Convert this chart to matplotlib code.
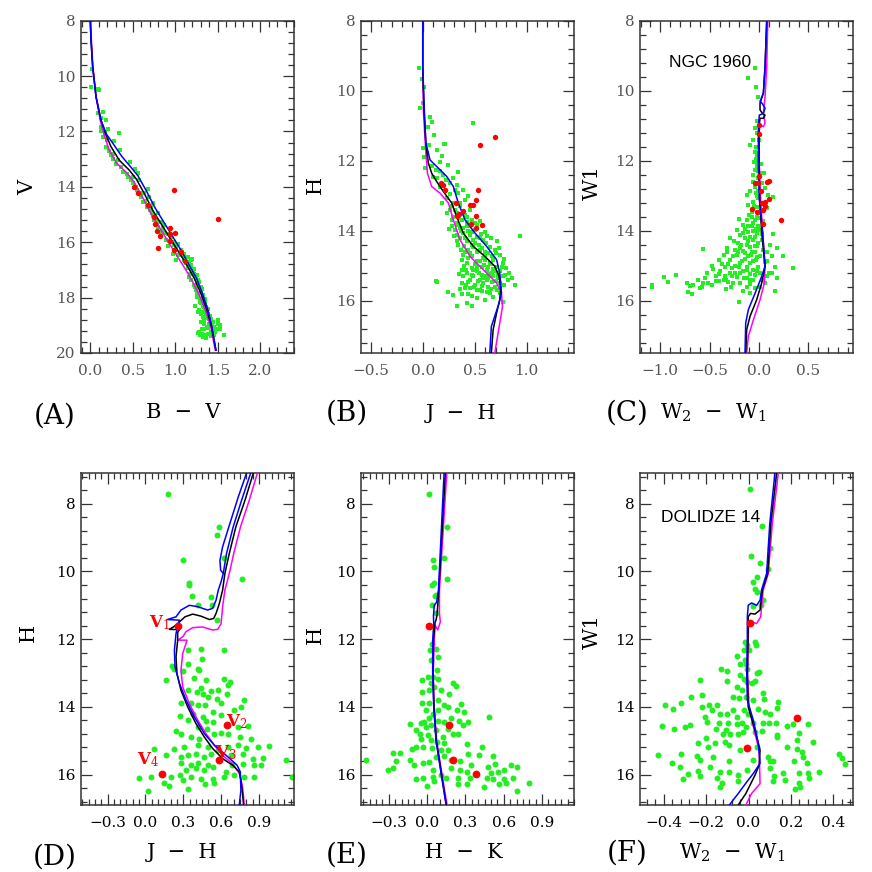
import numpy as np
import matplotlib.pyplot as plt
from matplotlib.ticker import MultipleLocator, FuncFormatter

plt.rcParams['font.family'] = 'DejaVu Serif'
plt.rcParams['mathtext.fontset'] = 'dejavuserif'

# ---------------- panel A : V vs B-V (NGC 1960) ----------------
a_green = np.array([
    (0.016, 9.76), (0.008, 10.39), (0.094, 10.45), (0.106, 10.51), (0.094, 11.35), (0.145, 11.29),
    (0.125, 11.53), (0.184, 11.57), (0.204, 11.9), (0.13, 11.83), (0.341, 12.05), (0.17, 12.07),
    (0.20, 12.31), (0.28, 12.34), (0.18, 12.55), (0.353, 12.67), (0.263, 12.8), (0.47, 13.1),
    (0.32, 13.04), (0.52, 13.34), (0.557, 13.5), (0.498, 13.64), (0.576, 13.76), (0.675, 14.06),
    (0.635, 14.24), (0.69, 14.36), (0.733, 14.58), (0.714, 14.72), (0.792, 14.96), (0.77, 15.2),
    (0.83, 15.27), (0.87, 15.39), (0.85, 15.5), (0.91, 15.69), (0.95, 15.81), (0.99, 15.99),
    (1.03, 16.05), (1.01, 16.17), (1.07, 16.29), (1.106, 16.41), (1.145, 16.53), (1.047, 16.47),
    (1.165, 16.71), (1.18, 16.83), (1.145, 16.89), (1.2, 17.01), (1.22, 17.13), (1.165, 17.25),
    (1.24, 17.31), (1.26, 17.49), (1.28, 17.61), (1.24, 17.73), (1.30, 17.8), (1.32, 17.92),
    (1.26, 17.98), (1.34, 18.1), (1.30, 18.2), (1.36, 18.34), (1.28, 18.46), (1.38, 18.58),
    (1.32, 18.7), (1.42, 18.76), (1.30, 18.88), (1.40, 18.94), (1.46, 19.06), (1.34, 19.12),
    (1.28, 19.24), (1.38, 19.3), (1.52, 19.0), (1.57, 19.36), (1.32, 19.42), (1.44, 19.18),
    (1.184, 16.65), (1.224, 16.95), (1.176, 17.13), (1.243, 17.19), (1.27, 17.37), (1.216, 17.55),
    (1.302, 17.61), (1.255, 17.86), (1.349, 18.04), (1.294, 18.16), (1.333, 18.34), (1.27, 18.52),
    (1.36, 18.58), (1.40, 18.76), (1.341, 18.82), (1.44, 18.88), (1.373, 19.06), (1.478, 19.12),
    (1.416, 19.24), (1.31, 19.3), (1.263, 19.28), (1.459, 19.36), (1.36, 19.45), (1.498, 18.82),
    (1.53, 19.12), (1.322, 18.52), (1.23, 18.31), (1.153, 16.93), (1.098, 16.65), (1.027, 16.45),
    (1.008, 16.63), (0.969, 16.41), (0.918, 16.14), (0.89, 15.93), (0.831, 15.69), (0.8, 15.45),
    (0.745, 15.2), (0.722, 14.96), (0.667, 14.72), (0.616, 14.54), (0.588, 14.24), (0.537, 14.0),
    (0.478, 13.76), (0.44, 13.64), (0.38, 13.46), (0.302, 13.16), (0.243, 12.86),
    (1.1, 16.55), (1.13, 16.75), (1.19, 16.9), (1.21, 17.05), (1.25, 17.2), (1.19, 17.35),
    (1.28, 17.42), (1.23, 17.6), (1.31, 17.7), (1.27, 17.85), (1.33, 18.0), (1.29, 18.05),
    (1.35, 18.2), (1.32, 18.3), (1.39, 18.4), (1.35, 18.45), (1.30, 18.6), (1.41, 18.65),
    (1.37, 18.75), (1.34, 18.95), (1.43, 18.98), (1.39, 19.1), (1.31, 19.15), (1.47, 19.25),
    (1.35, 19.35), (1.42, 19.4), (1.29, 19.35), (1.50, 18.95), (1.2, 16.6), (1.08, 16.35),
    (0.98, 16.1), (0.93, 15.95), (0.88, 15.65), (0.84, 15.55), (0.79, 15.3), (0.74, 15.05),
    (0.70, 14.85), (0.64, 14.5), (0.6, 14.35), (0.55, 14.1), (0.5, 13.85), (0.43, 13.55),
    (0.36, 13.3), (0.27, 13.0), (0.22, 12.7), (0.15, 12.2), (0.12, 12.0),
])
a_red = np.array([
    (0.51, 14.02), (0.565, 14.22), (0.675, 14.66), (0.745, 15.08), (0.76, 15.35), (0.78, 15.59),
    (0.82, 15.78), (0.80, 16.2), (0.933, 15.49), (0.94, 15.72), (1.0, 15.66), (0.94, 15.96),
    (0.98, 16.29), (1.067, 16.37), (1.11, 16.67), (0.99, 14.13), (1.506, 15.16),
])
a_black = [np.array([
    (0.0, 8.0), (0.008, 8.7), (0.027, 9.66), (0.067, 10.75), (0.125, 11.59), (0.184, 12.13),
    (0.243, 12.55), (0.341, 13.04), (0.459, 13.40), (0.537, 13.70), (0.635, 14.24), (0.733, 14.84),
    (0.831, 15.33), (0.929, 15.81), (1.027, 16.29), (1.125, 16.77), (1.224, 17.31), (1.302, 17.86),
    (1.373, 18.46), (1.427, 19.06), (1.478, 19.9)])]
a_blue = [np.array([
    (0.0, 8.0), (0.008, 8.7), (0.027, 9.66), (0.067, 10.75), (0.125, 11.59), (0.19, 12.1),
    (0.27, 12.45), (0.37, 12.9), (0.48, 13.3), (0.56, 13.6), (0.66, 14.15), (0.76, 14.75),
    (0.86, 15.25), (0.96, 15.75), (1.06, 16.25), (1.15, 16.75), (1.25, 17.3), (1.32, 17.86),
    (1.385, 18.46), (1.43, 19.06), (1.478, 19.9)])]
a_magenta = [np.array([
    (0.0, 8.0), (0.012, 8.7), (0.03, 9.66), (0.067, 10.75), (0.12, 11.65), (0.17, 12.2),
    (0.22, 12.65), (0.31, 13.15), (0.43, 13.5), (0.51, 13.8), (0.61, 14.35), (0.71, 14.95),
    (0.81, 15.45), (0.91, 15.95), (1.00, 16.4), (1.10, 16.88), (1.20, 17.4), (1.28, 17.9),
    (1.36, 18.5), (1.42, 19.1), (1.47, 19.9)])]

# ---------------- panel B : H vs J-H (NGC 1960) ----------------
b_green = np.array([
    (-0.04, 9.36), (-0.01, 9.67), (0.015, 9.9), (0.0, 10.36), (-0.03, 10.5), (0.07, 10.76),
    (0.085, 10.91), (0.48, 10.93), (0.05, 11.05), (0.11, 11.27), (0.2, 11.53), (0.94, 14.15),
    (0.13, 15.44),
    (0.064, 11.55), (0.217, 11.52), (0.006, 11.65), (0.038, 11.79), (0.134, 11.71), (0.013, 11.9),
    (0.182, 11.88), (0.166, 12.03), (0.246, 12.12), (0.022, 12.22), (0.131, 12.27), (0.342, 12.33),
    (0.198, 12.41), (0.102, 12.46), (0.294, 12.5), (0.262, 12.65), (0.326, 12.69), (0.166, 12.74),
    (0.39, 12.84), (0.342, 12.93), (0.438, 13.01), (0.23, 13.07), (0.406, 13.12), (0.294, 13.22),
    (0.358, 13.31), (0.262, 13.41), (0.454, 13.41), (0.326, 13.5), (0.406, 13.55), (0.278, 13.69),
    (0.374, 13.69), (0.47, 13.69), (0.55, 13.74), (0.342, 13.84), (0.422, 13.88), (0.31, 13.98),
    (0.502, 13.98), (0.597, 14.03), (0.39, 14.07), (0.454, 14.12), (0.358, 14.22), (0.55, 14.22),
    (0.66, 14.22), (0.422, 14.31), (0.502, 14.36), (0.61, 14.36), (0.71, 14.31), (0.342, 14.41),
    (0.566, 14.5), (0.438, 14.55), (0.693, 14.55), (0.518, 14.6), (0.63, 14.65), (0.39, 14.69),
    (0.74, 14.69), (0.47, 14.74), (0.58, 14.79), (0.677, 14.84), (0.374, 14.84), (0.518, 14.88),
    (0.422, 14.93), (0.645, 14.93), (0.77, 14.93), (0.566, 15.03), (0.71, 15.03), (0.47, 15.07),
    (0.80, 15.07), (0.374, 15.12), (0.614, 15.12), (0.518, 15.17), (0.74, 15.17), (0.422, 15.22),
    (0.662, 15.22), (0.566, 15.27), (0.79, 15.27), (0.39, 15.31), (0.486, 15.31), (0.63, 15.36),
    (0.725, 15.36), (0.55, 15.41), (0.821, 15.41), (0.438, 15.46), (0.662, 15.46), (0.374, 15.5),
    (0.582, 15.5), (0.741, 15.5), (0.885, 15.55), (0.502, 15.55), (0.63, 15.6), (0.454, 15.65),
    (0.55, 15.69), (0.71, 15.69), (0.614, 15.77), (0.134, 15.46), (0.246, 15.77), (0.294, 15.84),
    (0.374, 15.81), (0.47, 15.88), (0.6, 15.98), (0.77, 16.03), (0.422, 16.07), (0.47, 16.17),
    (0.326, 16.15),
    (0.326, 13.79), (0.39, 13.93), (0.47, 14.03), (0.518, 14.17), (0.406, 14.22), (0.582, 14.27),
    (0.486, 14.46), (0.598, 14.6), (0.662, 14.74), (0.406, 14.6), (0.55, 14.88), (0.63, 15.03),
    (0.438, 14.79), (0.693, 15.17), (0.598, 15.31), (0.518, 15.03), (0.47, 15.27), (0.693, 15.6),
    (0.518, 15.69), (0.406, 15.65), (0.645, 15.79), (0.741, 15.79), (0.566, 15.58), (0.77, 15.31),
    (0.834, 15.22), (0.677, 15.31), (0.294, 13.6), (0.31, 13.41), (0.422, 13.6), (0.502, 13.79),
    (0.358, 13.93), (0.278, 13.88), (0.326, 14.12), (0.454, 13.88),
    (0.35, 13.65), (0.43, 13.75), (0.52, 13.85), (0.37, 14.0), (0.44, 14.0), (0.56, 14.1),
    (0.62, 14.15), (0.33, 14.3), (0.47, 14.4), (0.54, 14.42), (0.65, 14.48), (0.73, 14.5),
    (0.37, 14.55), (0.60, 14.7), (0.70, 14.65), (0.78, 14.8), (0.45, 14.65), (0.50, 14.95),
    (0.59, 14.98), (0.68, 15.1), (0.76, 15.05), (0.40, 15.0), (0.35, 15.25), (0.45, 15.4),
    (0.53, 15.45), (0.62, 15.42), (0.70, 15.43), (0.78, 15.55), (0.86, 15.35), (0.42, 15.55),
    (0.49, 15.6), (0.57, 15.72), (0.66, 15.68), (0.74, 15.65), (0.36, 15.68), (0.44, 15.82),
    (0.52, 15.92), (0.68, 15.9), (0.58, 15.35), (0.64, 15.25), (0.72, 15.25), (0.54, 15.2),
    (0.48, 15.12), (0.42, 15.12), (0.60, 14.85), (0.66, 14.95), (0.55, 14.55), (0.48, 14.28),
    (0.40, 14.45), (0.30, 14.15), (0.25, 13.95), (0.23, 13.5), (0.28, 13.3), (0.36, 13.2),
    (0.19, 13.2), (0.26, 12.95), (0.31, 12.85), (0.22, 12.55), (0.14, 12.5), (0.09, 12.15),
    (0.17, 12.3),
])
b_red = np.array([
    (0.693, 11.33), (0.55, 11.55), (0.173, 12.63), (0.198, 12.69), (0.214, 12.84), (0.527, 12.84),
    (0.511, 13.12), (0.32, 13.2), (0.454, 13.27), (0.479, 13.27), (0.383, 13.43), (0.351, 13.53),
    (0.332, 13.58), (0.508, 13.57), (0.466, 13.8), (0.569, 13.85), (0.511, 13.93),
])
b_black = [np.array([
    (0.0, 8.0), (0.0, 9.31), (0.012, 10.55), (0.03, 11.5), (0.054, 12.07), (0.086, 12.36),
    (0.134, 12.6), (0.198, 12.88), (0.278, 13.21), (0.326, 13.6), (0.39, 14.07), (0.486, 14.45),
    (0.598, 14.74), (0.693, 15.02), (0.735, 15.31), (0.75, 15.69), (0.74, 15.98), (0.71, 16.36),
    (0.677, 16.84), (0.66, 17.5)])]
b_blue = [np.array([
    (0.0, 8.0), (0.0, 9.31), (0.015, 10.55), (0.03, 11.5), (0.07, 11.98), (0.166, 12.26),
    (0.23, 12.45), (0.294, 12.74), (0.342, 13.21), (0.406, 13.69), (0.502, 14.07), (0.614, 14.45),
    (0.71, 14.83), (0.741, 15.21), (0.757, 15.78), (0.735, 16.07), (0.66, 16.74), (0.645, 17.5)])]
b_magenta = [np.array([
    (0.0, 8.0), (0.0, 9.31), (0.006, 10.55), (0.022, 11.4), (0.045, 12.36), (0.086, 12.74),
    (0.166, 12.93), (0.246, 13.21), (0.294, 13.69), (0.358, 14.26), (0.454, 14.74), (0.582, 15.12),
    (0.71, 15.5), (0.757, 15.78), (0.767, 16.17), (0.741, 16.64), (0.693, 17.5)])]

# ---------------- panel C : W1 vs W2-W1 (NGC 1960) ----------------
c_green = np.array([
    (-0.04, 9.36), (-0.11, 9.65), (-0.03, 9.9), (-0.01, 10.17),
    (-0.017, 10.88), (-0.04, 11.07), (-0.09, 11.55), (-0.03, 11.6), (-0.04, 11.74), (-0.024, 11.88),
    (-0.05, 12.03), (-0.017, 12.17), (-0.04, 12.27), (0.05, 12.34), (-0.057, 12.41), (-0.007, 12.5),
    (0.027, 12.65), (-0.04, 12.74), (0.06, 12.79), (-0.09, 12.86), (-0.03, 12.93), (-0.118, 12.98),
    (0.095, 12.98), (0.145, 13.05), (-0.007, 13.07), (-0.057, 13.17), (0.044, 13.22), (-0.108, 13.27),
    (-0.024, 13.33), (0.078, 13.36), (-0.074, 13.46), (0.01, 13.5), (-0.2, 13.66), (-0.125, 13.69),
    (-0.04, 13.69), (0.044, 13.74), (-0.16, 13.84), (-0.074, 13.87), (-0.007, 13.88), (-0.226, 13.98),
    (-0.108, 14.03), (-0.024, 14.06), (0.145, 14.09), (-0.193, 14.12), (-0.294, 14.22), (-0.142, 14.22),
    (-0.057, 14.27), (0.027, 14.27), (-0.21, 14.36), (-0.125, 14.41), (-0.04, 14.44), (-0.328, 14.5),
    (-0.564, 14.53), (-0.243, 14.55), (-0.16, 14.57), (-0.074, 14.6), (0.078, 14.6), (0.18, 14.5),
    (-0.36, 14.69), (-0.226, 14.69), (-0.108, 14.74), (-0.024, 14.76), (0.128, 14.74), (0.247, 14.72),
    (-0.41, 14.84), (-0.294, 14.84), (-0.176, 14.86), (-0.057, 14.88), (0.078, 14.88), (-0.48, 15.01),
    (-0.345, 15.03), (-0.243, 15.01), (-0.125, 15.03), (-0.007, 15.03), (0.162, 15.03), (0.348, 15.07),
    (-0.53, 15.2), (-0.395, 15.17), (-0.294, 15.22), (-0.193, 15.2), (-0.091, 15.24), (0.128, 15.22),
    (-0.44, 15.31), (-0.345, 15.31), (-0.226, 15.33), (-0.125, 15.36), (0.078, 15.31), (0.18, 15.36),
    (-0.84, 15.27), (-0.96, 15.33), (-0.92, 15.48), (-0.615, 15.41), (-0.564, 15.5), (-0.733, 15.5),
    (-0.665, 15.55), (-0.513, 15.5), (-0.7, 15.58), (-0.41, 15.45), (-0.31, 15.48), (-0.26, 15.5),
    (-0.193, 15.5), (-0.09, 15.52), (-1.08, 15.55), (-1.08, 15.6), (-0.716, 15.77), (-0.68, 15.81),
    (-0.6, 15.65), (-0.33, 15.67), (-0.16, 15.74), (-0.09, 15.79), (0.162, 15.74), (-0.2, 16.03),
    (-0.58, 15.6), (-0.09, 15.41), (-0.04, 14.17), (-0.09, 14.46), (-0.04, 15.27), (0.01, 15.22),
    (-0.074, 13.6), (-0.024, 13.6), (-0.108, 13.88), (0.01, 13.98), (-0.159, 14.07), (-0.091, 14.17),
    (-0.007, 14.36), (-0.193, 14.5), (-0.04, 14.6), (-0.142, 14.65), (-0.26, 14.74), (0.01, 14.74),
    (-0.091, 14.93), (-0.193, 14.93), (-0.277, 15.07), (-0.057, 15.12), (-0.159, 15.17), (-0.243, 15.22),
    (-0.36, 15.41), (-0.44, 15.45), (0.027, 15.41), (0.01, 15.6), (-0.057, 12.6), (-0.007, 12.88),
    (0.017, 12.36), (-0.024, 12.07), (-0.057, 11.41), (-0.017, 11.79),
    (-0.02, 13.0), (-0.05, 13.3), (0.02, 13.45), (-0.1, 13.55), (-0.06, 13.78), (0.0, 13.65),
    (-0.14, 13.95), (-0.03, 13.95), (0.03, 14.1), (-0.11, 14.3), (-0.25, 14.3), (-0.18, 14.4),
    (-0.02, 14.45), (-0.32, 14.6), (-0.21, 14.6), (-0.08, 14.7), (-0.14, 14.8), (-0.03, 14.85),
    (-0.38, 14.95), (-0.31, 14.95), (-0.2, 15.05), (-0.12, 15.12), (-0.02, 15.15), (-0.47, 15.1),
    (-0.41, 15.25), (-0.33, 15.4), (-0.27, 15.3), (-0.15, 15.35), (-0.06, 15.4), (-0.55, 15.35),
    (-0.48, 15.55), (-0.28, 15.62), (-0.12, 15.6), (-0.04, 15.65), (0.06, 15.5), (0.1, 15.2),
    (0.06, 14.9), (0.11, 14.4), (0.04, 14.55), (-0.06, 14.0), (-0.01, 12.3), (0.02, 12.1),
    (-0.035, 11.95), (0.0, 11.4), (-0.02, 11.2),
])
c_red = np.array([
    (0.003, 10.97), (0.003, 11.25), (0.003, 12.44), (-0.04, 12.63), (-0.007, 12.65), (0.078, 12.6),
    (0.105, 12.58), (0.017, 12.88), (0.098, 13.09), (0.06, 13.19), (0.03, 13.2), (0.064, 13.3),
    (-0.074, 13.38), (0.037, 13.41), (-0.017, 13.48), (0.037, 13.81), (0.22, 13.71),
])
c_black = [np.array([
    (0.078, 8.0), (0.061, 9.31), (0.044, 10.07), (0.01, 10.36), (0.01, 10.55), (0.034, 10.65),
    (0.061, 10.7), (0.044, 10.79), (0.01, 10.79), (0.0, 11.03), (0.0, 12.17), (0.007, 13.12),
    (0.027, 14.07), (0.054, 14.83), (0.061, 15.02), (0.027, 15.5), (-0.024, 15.98), (-0.091, 16.45),
    (-0.125, 16.83), (-0.135, 17.5)])]
c_blue = [np.array([
    (0.078, 8.0), (0.061, 9.31), (0.044, 10.07), (0.01, 10.31), (0.03, 10.36), (0.061, 10.5),
    (0.044, 10.65), (0.003, 10.7), (-0.007, 11.03), (-0.007, 12.17), (0.003, 13.12), (0.037, 14.07),
    (0.061, 15.02), (0.027, 15.31), (-0.04, 15.79), (-0.108, 16.26), (-0.135, 16.64), (-0.142, 17.5)])]
c_magenta = [np.array([
    (0.088, 8.0), (0.078, 9.31), (0.061, 10.17), (0.044, 10.65), (0.061, 10.93), (0.044, 11.03),
    (0.01, 10.98), (0.0, 11.22), (0.003, 12.17), (0.017, 13.12), (0.037, 14.07), (0.061, 15.02),
    (0.054, 15.5), (0.01, 15.98), (-0.057, 16.55), (-0.108, 17.02), (-0.125, 17.5)])]

# ---------------- panel D : H vs J-H (Dolidze 14) ----------------
d_green = np.array([
    (0.177, 7.70), (0.583, 8.68), (0.57, 8.91), (0.30, 9.65), (0.625, 9.59), (0.767, 10.21),
    (0.348, 10.35), (0.348, 10.40), (0.367, 10.72), (0.517, 10.75), (0.42, 11.0), (0.525, 11.0),
    (0.565, 11.44),
    (0.335, 12.33), (0.44, 12.28), (0.62, 12.33), (0.446, 12.6), (0.335, 12.72), (0.208, 12.8),
    (0.224, 12.87), (0.296, 12.95), (0.414, 12.87), (0.427, 12.92), (0.166, 13.21), (0.388, 13.16),
    (0.48, 13.21), (0.62, 13.17), (0.673, 13.26), (0.34, 13.49), (0.44, 13.44), (0.52, 13.53),
    (0.573, 13.51), (0.652, 13.36), (0.41, 13.56), (0.454, 13.63), (0.5, 13.7), (0.567, 13.78),
    (0.646, 13.63), (0.778, 13.8), (0.282, 13.9), (0.36, 13.9), (0.414, 13.95), (0.472, 13.95),
    (0.6, 13.9), (0.757, 14.0), (0.277, 14.28), (0.375, 14.22), (0.454, 14.3), (0.533, 14.15),
    (0.6, 14.25), (0.7, 14.1), (0.335, 14.39), (0.48, 14.41), (0.533, 14.44), (0.73, 14.59),
    (0.81, 14.57), (0.243, 14.71), (0.282, 14.79), (0.414, 14.59), (0.488, 14.64), (0.546, 14.79),
    (0.6, 14.77), (0.652, 14.79), (0.752, 14.89), (0.836, 14.94), (0.36, 14.89), (0.427, 14.94),
    (0.309, 15.18), (0.414, 15.13), (0.493, 15.18), (0.573, 15.28), (0.652, 15.18), (0.73, 15.13),
    (0.797, 15.23), (0.89, 15.2), (0.98, 15.16), (0.071, 15.24), (0.164, 15.43), (0.23, 15.26),
    (0.282, 15.48), (0.335, 15.43), (0.4, 15.38), (0.467, 15.48), (0.52, 15.4), (0.678, 15.43),
    (0.77, 15.38), (0.85, 15.53), (0.935, 15.5), (1.113, 15.56), (1.158, 16.07), (0.282, 15.67),
    (0.36, 15.72), (0.414, 15.67), (0.493, 15.72), (0.686, 15.72), (0.77, 15.69), (0.863, 15.72),
    (0.322, 15.87), (0.4, 15.82), (0.467, 15.87), (0.533, 15.79), (0.639, 15.92), (0.704, 16.02),
    (0.916, 15.72), (-0.047, 16.09), (0.045, 16.07), (0.203, 16.07), (0.277, 16.02), (0.36, 16.07),
    (0.44, 16.12), (0.533, 16.12), (0.625, 16.07), (0.784, 16.07), (0.863, 16.07), (0.15, 16.25),
    (0.19, 16.34), (0.296, 16.17), (0.472, 16.27), (0.546, 16.25), (0.34, 16.44), (0.018, 16.5),
])
d_red = np.array([(0.256, 11.6), (0.646, 14.54), (0.586, 15.58), (0.13, 15.97)])
d_red_names = ['V$_1$', 'V$_2$', 'V$_3$', 'V$_4$']
d_red_text = np.array([(0.11, 11.5), (0.72, 14.44), (0.64, 15.36), (0.02, 15.55)])
d_black = [np.array([
    (0.854, 7.11), (0.789, 7.9), (0.717, 8.68), (0.665, 9.47), (0.63, 10.06), (0.612, 10.55),
    (0.586, 10.95), (0.56, 11.24), (0.541, 11.39), (0.507, 11.42), (0.44, 11.32), (0.375, 11.26),
    (0.314, 11.34), (0.27, 11.49), (0.23, 11.62), (0.19, 11.71), (0.27, 11.72), (0.256, 11.8),
    (0.256, 12.03), (0.243, 12.52), (0.25, 13.01), (0.282, 13.51), (0.335, 14.0), (0.4, 14.49),
    (0.467, 14.89), (0.533, 15.23), (0.612, 15.53), (0.69, 15.72), (0.744, 15.92), (0.757, 16.17),
    (0.77, 16.56), (0.778, 16.9)])]
d_blue = [np.array([
    (0.833, 7.11), (0.762, 7.9), (0.696, 8.68), (0.643, 9.47), (0.617, 10.06), (0.6, 10.3),
    (0.578, 10.55), (0.56, 10.85), (0.533, 11.09), (0.493, 11.14), (0.414, 11.04), (0.348, 11.0),
    (0.282, 11.14), (0.243, 11.34), (0.175, 11.42), (0.27, 11.44), (0.262, 11.54), (0.243, 11.83),
    (0.23, 12.33), (0.235, 12.82), (0.27, 13.31), (0.322, 13.8), (0.388, 14.3), (0.467, 14.79),
    (0.546, 15.13), (0.639, 15.43), (0.726, 15.72), (0.752, 15.92), (0.757, 16.46), (0.744, 16.9)]),
    np.array([(0.80, 7.11), (0.736, 7.8), (0.67, 8.58), (0.612, 9.27), (0.591, 9.67),
              (0.596, 9.96), (0.617, 10.06)])]
d_magenta = [np.array([
    (0.886, 7.11), (0.823, 7.9), (0.754, 8.68), (0.70, 9.47), (0.665, 10.06), (0.63, 10.55),
    (0.612, 11.04), (0.6, 11.54), (0.573, 11.71), (0.533, 11.73), (0.454, 11.64), (0.375, 11.66),
    (0.322, 11.78), (0.296, 11.93), (0.256, 12.03), (0.33, 12.03), (0.322, 12.13), (0.296, 12.42),
    (0.282, 12.92), (0.296, 13.41), (0.348, 13.9), (0.414, 14.39), (0.48, 14.79), (0.546, 15.13),
    (0.625, 15.48), (0.69, 15.67), (0.744, 15.97), (0.77, 16.36), (0.784, 16.9)])]

# ---------------- panel E : H vs H-K (Dolidze 14) ----------------
e_green = np.array([
    (0.016, 7.70), (0.159, 8.70), (0.05, 9.65), (0.136, 9.59), (0.055, 9.88), (0.055, 10.35),
    (0.04, 10.41), (0.154, 10.21), (0.07, 10.70),
    (0.063, 10.73), (0.037, 11.0), (0.07, 11.22), (0.037, 12.13), (0.026, 12.31), (0.07, 12.28),
    (0.031, 12.62), (0.083, 12.52), (0.078, 12.9), (-0.039, 13.21), (0.044, 13.13), (0.089, 13.19),
    (0.2, 13.29), (0.227, 13.39), (-0.036, 13.56), (0.018, 13.51), (0.11, 13.51), (0.175, 13.63),
    (-0.042, 13.88), (0.018, 13.9), (0.083, 13.8), (0.13, 13.95), (0.162, 14.0), (0.235, 14.08),
    (0.266, 13.92), (0.292, 14.15), (-0.13, 14.51), (-0.086, 14.67), (-0.047, 14.49), (-0.008, 14.59),
    (0.031, 14.54), (0.083, 14.41), (0.136, 14.44), (0.188, 14.34), (0.253, 14.41), (0.318, 14.44),
    (0.279, 14.54), (0.488, 14.3), (-0.052, 14.79), (0.005, 14.84), (0.123, 14.89), (0.2, 14.79),
    (0.24, 14.81), (-0.12, 15.26), (-0.086, 15.18), (-0.034, 15.18), (0.037, 15.23), (0.136, 15.08),
    (0.167, 15.28), (0.313, 15.1), (-0.27, 15.36), (-0.209, 15.35), (-0.133, 15.58), (-0.104, 15.72),
    (-0.034, 15.66), (0.018, 15.63), (0.136, 15.46), (0.188, 15.56), (0.261, 15.6), (0.318, 15.38),
    (0.428, 15.18), (-0.243, 15.6), (-0.308, 15.87), (-0.27, 15.82), (0.044, 15.87), (0.188, 15.82),
    (0.261, 15.87), (0.313, 15.92), (0.41, 15.43), (0.475, 15.77), (0.514, 15.46), (0.533, 15.69),
    (0.344, 15.72), (0.5, 15.95), (0.558, 15.92), (0.605, 15.87), (0.657, 15.72), (0.704, 15.77),
    (-0.086, 16.12), (-0.034, 16.09), (0.0, 16.34), (0.149, 16.09), (0.24, 16.09), (0.245, 16.27),
    (0.313, 16.29), (0.339, 16.09), (0.443, 16.36), (0.47, 16.09), (0.514, 16.12), (0.566, 16.27),
    (0.6, 16.12), (0.618, 16.25), (0.67, 16.09), (0.796, 16.25), (0.704, 16.49), (-0.477, 15.56),
    (0.044, 16.07), (0.057, 16.19), (0.11, 16.02),
    (0.005, 13.11), (0.031, 13.31), (0.057, 13.41), (-0.008, 14.1), (0.044, 14.2), (0.089, 14.1),
    (0.018, 14.34), (-0.021, 14.44), (0.07, 14.69), (0.162, 14.64), (-0.047, 14.94), (0.031, 14.99),
    (0.11, 15.28), (0.07, 15.48), (0.078, 15.03),
])
e_red = np.array([(0.018, 11.6), (0.17, 14.54), (0.206, 15.58), (0.383, 15.97)])
e_black = [np.array([
    (0.143, 7.11), (0.092, 10.55), (0.078, 11.29), (0.07, 11.44), (0.063, 11.5), (0.05, 12.03),
    (0.046, 13.01), (0.054, 14.0), (0.072, 14.99), (0.112, 15.97), (0.151, 16.9)])]
e_blue = [np.array([
    (0.133, 7.11), (0.089, 10.55), (0.075, 10.9), (0.057, 11.0), (0.05, 11.3), (0.052, 11.54),
    (0.044, 12.03), (0.044, 13.01), (0.052, 14.0), (0.07, 14.99), (0.11, 15.97), (0.149, 16.9)])]
e_magenta = [np.array([
    (0.154, 7.11), (0.097, 10.55), (0.097, 11.24), (0.104, 11.49), (0.083, 11.73), (0.063, 11.59),
    (0.057, 12.03), (0.048, 13.01), (0.056, 14.0), (0.075, 14.99), (0.116, 15.97), (0.156, 16.9)])]

# ---------------- panel F : W1 vs W2-W1 (Dolidze 14) ----------------
f_green = np.array([
    (0.006, 7.55), (0.061, 8.66), (0.1, 9.32), (0.009, 9.55), (0.053, 9.74), (0.093, 9.94),
    (0.038, 10.16), (0.022, 10.31), (0.03, 10.53), (0.038, 10.6), (0.069, 10.85), (0.059, 11.0),
    (0.022, 11.03),
    (-0.017, 12.08), (-0.009, 12.18), (0.03, 12.08), (0.035, 12.18), (-0.022, 12.33), (0.003, 12.33),
    (-0.057, 12.49), (-0.017, 12.62), (-0.013, 12.72), (-0.006, 12.87), (-0.041, 12.74), (0.038, 12.99),
    (0.05, 12.97), (-0.131, 12.89), (-0.101, 12.95), (-0.23, 13.21), (-0.101, 13.24), (-0.041, 13.06),
    (-0.022, 13.19), (-0.006, 13.26), (0.03, 13.23), (-0.057, 13.41), (-0.033, 13.51), (0.014, 13.31),
    (-0.274, 13.72), (-0.222, 13.66), (-0.072, 13.7), (-0.044, 13.75), (-0.013, 13.7), (0.022, 13.8),
    (0.069, 13.59), (0.074, 13.78), (0.137, 13.85), (-0.317, 13.88), (-0.395, 13.96), (-0.359, 14.05),
    (-0.222, 14.0), (-0.186, 13.95), (-0.151, 13.95), (-0.175, 14.1), (-0.206, 14.3), (-0.135, 14.2),
    (-0.101, 14.22), (-0.072, 14.08), (-0.057, 14.3), (-0.022, 14.08), (-0.002, 14.2), (0.046, 14.05),
    (0.077, 14.15), (0.101, 14.22), (0.132, 14.02), (-0.198, 14.44), (-0.139, 14.47), (-0.096, 14.49),
    (-0.057, 14.51), (-0.033, 14.49), (-0.013, 14.59), (0.022, 14.47), (0.066, 14.49), (0.098, 14.49),
    (0.129, 14.49), (0.18, 14.57), (0.211, 14.51), (0.282, 14.52), (-0.411, 14.57), (-0.351, 14.64),
    (-0.301, 14.61), (-0.277, 14.54), (-0.154, 14.64), (-0.107, 14.67), (-0.088, 14.79), (-0.123, 14.81),
    (-0.049, 14.79), (-0.025, 14.74), (0.03, 14.74), (0.061, 14.71), (0.132, 14.84), (0.239, 14.77),
    (-0.202, 14.91), (-0.159, 15.08), (-0.112, 15.03), (-0.091, 15.13), (-0.238, 15.08), (-0.191, 15.2),
    (-0.041, 15.28), (0.038, 15.18), (0.132, 14.89), (0.18, 15.18), (0.228, 14.98), (0.306, 15.03),
    (0.228, 15.26), (0.25, 15.33), (-0.427, 15.43), (-0.321, 15.38), (-0.246, 15.46), (-0.228, 15.56),
    (-0.17, 15.48), (-0.091, 15.6), (0.019, 15.56), (0.093, 15.48), (0.101, 15.6), (0.117, 15.6),
    (0.214, 15.6), (0.258, 15.48), (0.274, 15.66), (0.428, 15.38), (0.439, 15.5), (0.455, 15.69),
    (-0.364, 15.66), (-0.324, 15.79), (-0.288, 15.97), (-0.238, 15.89), (-0.183, 15.79), (-0.135, 15.92),
    (-0.091, 15.92), (-0.006, 15.87), (0.101, 15.82), (0.164, 15.95), (0.239, 15.95), (0.28, 15.95),
    (0.334, 15.92), (-0.309, 16.12), (-0.23, 16.05), (-0.148, 16.09), (-0.049, 16.02), (0.12, 16.05),
    (0.113, 16.19), (0.172, 16.15), (0.239, 16.25), (0.287, 16.09), (-0.128, 16.25), (-0.049, 16.19),
    (-0.135, 16.38), (0.243, 16.38), (0.219, 16.44),
])
f_red = np.array([(0.006, 11.52), (0.227, 14.34), (-0.009, 15.23)])
f_black = [np.array([
    (0.132, 7.11), (0.105, 8.58), (0.09, 10.06), (0.065, 10.55), (0.054, 11.14), (0.03, 11.26),
    (0.009, 11.24), (-0.002, 11.34), (-0.003, 12.03), (-0.006, 13.01), (-0.002, 14.0), (0.03, 14.69),
    (0.054, 15.28), (0.05, 15.72), (0.03, 16.02), (-0.013, 16.56), (-0.049, 16.9)])]
f_blue = [np.array([
    (0.124, 7.11), (0.1, 8.58), (0.085, 10.06), (0.061, 10.55), (0.054, 10.85), (0.038, 11.0),
    (0.014, 10.93), (-0.002, 11.0), (-0.006, 11.34), (-0.006, 12.03), (-0.009, 13.01), (-0.006, 13.8),
    (0.022, 14.39), (0.046, 15.08), (0.054, 15.67), (0.022, 15.97), (-0.009, 16.22), (-0.049, 16.56),
    (-0.091, 16.9)])]
f_magenta = [np.array([
    (0.14, 7.11), (0.112, 8.58), (0.093, 10.06), (0.069, 10.55), (0.057, 11.34), (0.038, 11.54),
    (0.014, 11.49), (0.0, 11.54), (-0.002, 12.03), (-0.005, 13.01), (0.002, 14.0), (0.03, 14.79),
    (0.05, 15.28), (0.054, 16.27), (0.014, 16.56), (-0.013, 16.9)])]

fig = plt.figure(figsize=(8.72, 8.72), dpi=100)
W = 872.0


def fpos(x, y):
    return x / W, 1 - y / W


def fmt(dec):
    def f(v, p):
        if abs(v) < 1e-9:
            v = 0.0
        return f'{v:.{dec}f}'.replace('-', '\u2212')
    return FuncFormatter(f)


def panel(box, green, red, blacks, blues, mags, xlim, ylim, xmaj, xmin, ymin,
          top=True):
    l, t, r, b = box
    ax = fig.add_axes([l / W, 1 - b / W, (r - l) / W, (b - t) / W])
    if top:
        ax.plot(green[:, 0], green[:, 1], 's', color='#22ee22', ms=2.3, mew=0, zorder=2)
    else:
        ax.plot(green[:, 0], green[:, 1], 'o', color='#22ee22', ms=4.3, mew=0, zorder=2)
    for arr in mags:
        ax.plot(arr[:, 0], arr[:, 1], color='#ff00ff', lw=1.1, zorder=3)
    for arr in blacks:
        ax.plot(arr[:, 0], arr[:, 1], color='black', lw=1.1, zorder=4)
    for arr in blues:
        ax.plot(arr[:, 0], arr[:, 1], color='#0000ff', lw=1.1, zorder=5)
    ax.plot(red[:, 0], red[:, 1], 'o', color='#ff0000', ms=3.9 if top else 5.6, mew=0, zorder=6)
    ax.set_xlim(*xlim)
    ax.set_ylim(*ylim)
    ax.xaxis.set_major_locator(MultipleLocator(xmaj))
    ax.xaxis.set_minor_locator(MultipleLocator(xmin))
    ax.yaxis.set_major_locator(MultipleLocator(2))
    ax.yaxis.set_minor_locator(MultipleLocator(ymin))
    ax.xaxis.set_major_formatter(fmt(1))
    ax.yaxis.set_major_formatter(fmt(0))
    col = '#555555' if top else 'black'
    ax.tick_params(which='both', direction='in', top=True, right=True, width=0.9,
                   color='#333333', labelsize=11, labelcolor=col)
    ax.tick_params(which='major', length=8)
    ax.tick_params(which='minor', length=4)
    ax.tick_params(axis='x', pad=8)
    ax.tick_params(axis='y', pad=4)
    for s in ax.spines.values():
        s.set_linewidth(1.1)
        s.set_color('#333333')
    return ax


top_y = (20.7, 353.0)
bot_y = (473.3, 805.0)

axA = panel((81, top_y[0], 294.3, top_y[1]), a_green, a_red, a_black, a_blue, a_magenta,
            (-0.11, 2.40), (20, 8), 0.5, 0.1, 0.4)
axB = panel((361, top_y[0], 574, top_y[1]), b_green, b_red, b_black, b_blue, b_magenta,
            (-0.594, 1.455), (17.5, 8), 0.5, 0.1, 0.4)
axC = panel((640, top_y[0], 853, top_y[1]), c_green, c_red, c_black, c_blue, c_magenta,
            (-1.206, 0.952), (17.5, 8), 0.5, 0.1, 0.4)
axD = panel((81, bot_y[0], 294.3, bot_y[1]), d_green, d_red, d_black, d_blue, d_magenta,
            (-0.51, 1.18), (16.9, 7.1), 0.3, 0.05, 0.4, top=False)
axE = panel((361, bot_y[0], 574, bot_y[1]), e_green, e_red, e_black, e_blue, e_magenta,
            (-0.517, 1.15), (16.9, 7.1), 0.3, 0.05, 0.4, top=False)
axF = panel((640, bot_y[0], 853, bot_y[1]), f_green, f_red, f_black, f_blue, f_magenta,
            (-0.513, 0.493), (16.9, 7.1), 0.2, 0.04, 0.4, top=False)

# red variable-star names in panel D
for (tx, ty), name in zip(d_red_text, d_red_names):
    axD.text(tx, ty, name, color='#ff0000', fontsize=12, fontweight='bold',
             ha='center', va='center', zorder=7)

axC.text(0.33, 0.873, 'NGC 1960', transform=axC.transAxes, family='Liberation Sans',
         fontsize=12.5, ha='center', va='center')
axF.text(0.33, 0.868, 'DOLIDZE 14', transform=axF.transAxes, family='Liberation Sans',
         fontsize=12.5, ha='center', va='center')

# axis titles and panel letters
xlabels = [('B  \u2212  V', 183, 412), ('J  \u2212  H', 461, 413),
           (r'$\mathrm{W}_2$  $-$  $\mathrm{W}_1$', 713, 413),
           ('J  \u2212  H', 182, 852), ('H  \u2212  K', 464, 852),
           (r'$\mathrm{W}_2$  $-$  $\mathrm{W}_1$', 732, 853)]
for txt, x, y in xlabels:
    fig.text(*fpos(x, y), txt, fontsize=15, ha='center', va='center')

ylabels = [('V', 28, 187), ('H', 315, 185), ('W1', 592, 183),
           ('H', 28, 633), ('H', 315, 635), ('W1', 592, 632)]
for txt, x, y in ylabels:
    fig.text(*fpos(x, y), txt, fontsize=15, ha='center', va='center', rotation=90)

letters = [('(A)', 55, 416), ('(B)', 347, 413), ('(C)', 627, 413),
           ('(D)', 55, 857), ('(E)', 347, 855), ('(F)', 627, 853)]
for txt, x, y in letters:
    fig.text(*fpos(x, y), txt, fontsize=20, ha='center', va='center')

fig.savefig('out.png', dpi=100)
